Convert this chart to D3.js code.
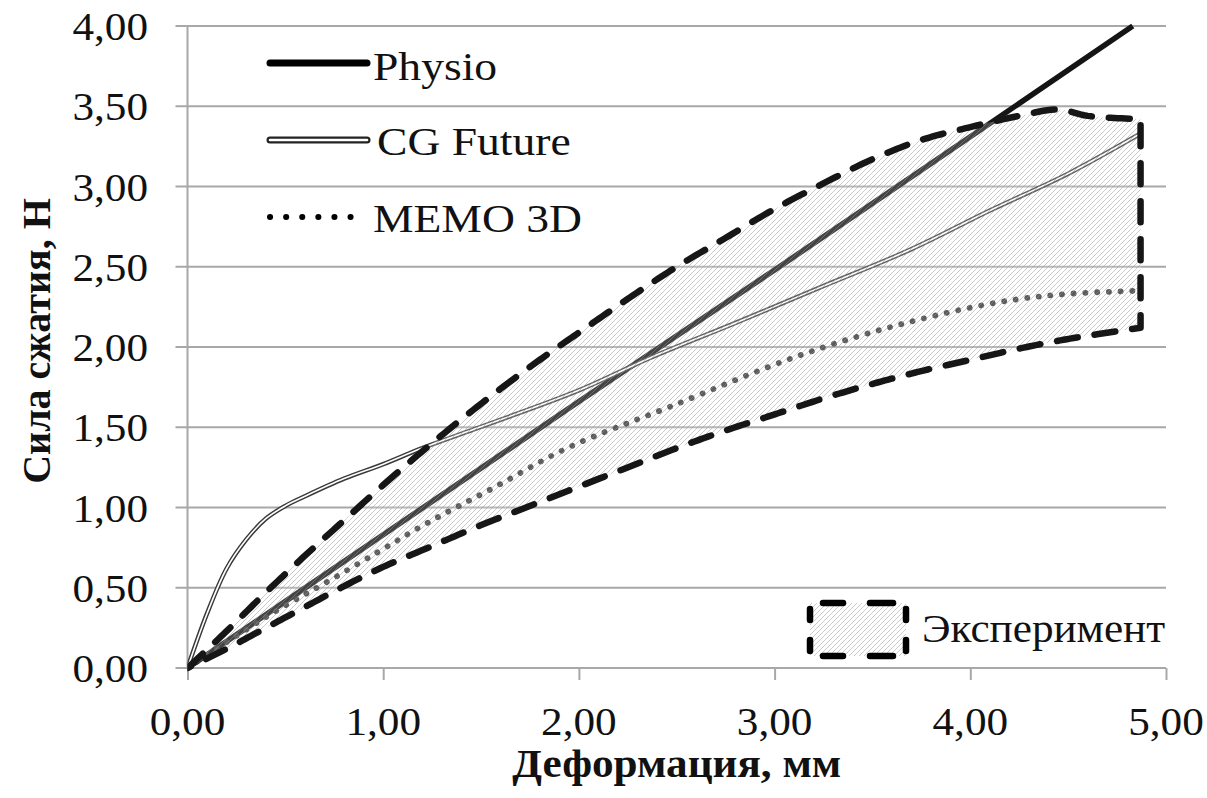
<!DOCTYPE html>
<html>
<head>
<meta charset="utf-8">
<script src="https://cdn.jsdelivr.net/npm/d3@7"></script>
<style>
  html, body { margin: 0; padding: 0; background: #fff; }
  svg { display: block; }
  text { font-family: "Liberation Serif", "Times New Roman", serif; fill: #111; }
</style>
</head>
<body>
<svg id="chart" width="1207" height="798"></svg>
<script>
// ---- data ----
const xTicks = [0, 1, 2, 3, 4, 5];
const yTicks = [0, 0.5, 1, 1.5, 2, 2.5, 3, 3.5, 4];
const xTitle = "Деформация, мм";
const yTitle = "Сила сжатия, Н";
const seriesNames = ["Physio", "CG Future", "MEMO 3D"];
const bandName = "Эксперимент";

const physioX = [0, 1, 2, 3, 4, 4.83];
const physioY = [0, 0.83, 1.66, 2.48, 3.31, 4.0];

const cgX = [0, 0.1, 0.2, 0.3, 0.4, 0.5, 0.6, 0.8, 1.0, 1.2, 1.47, 2.0, 2.36, 2.8, 3.23, 3.7, 4.1, 4.5, 4.87];
const cgY = [0, 0.34, 0.62, 0.80, 0.93, 1.01, 1.07, 1.18, 1.27, 1.37, 1.49, 1.73, 1.93, 2.15, 2.37, 2.61, 2.85, 3.08, 3.33];

const memoX = [0, 0.3, 0.5, 0.69, 0.97, 1.22, 1.56, 1.94, 2.47, 3.11, 3.64, 4.15, 4.49, 4.86];
const memoY = [0, 0.24, 0.39, 0.52, 0.72, 0.90, 1.12, 1.37, 1.63, 1.94, 2.14, 2.28, 2.33, 2.35];

const expUpperX = [0, 0.2, 0.4, 0.6, 0.8, 1.0, 1.2, 1.4, 1.6, 1.8, 2.0, 2.25, 2.5, 2.75, 3.0, 3.25, 3.5, 3.75, 4.0, 4.25, 4.45, 4.6, 4.87];
const expUpperY = [0, 0.23, 0.47, 0.70, 0.92, 1.14, 1.35, 1.55, 1.74, 1.92, 2.09, 2.30, 2.50, 2.68, 2.86, 3.02, 3.17, 3.29, 3.37, 3.44, 3.48, 3.44, 3.42];
const expLowerX = [0, 0.2, 0.4, 0.6, 0.8, 1.0, 1.25, 1.5, 1.75, 2.0, 2.25, 2.5, 2.75, 3.0, 3.25, 3.5, 3.75, 4.0, 4.25, 4.5, 4.87];
const expLowerY = [0, 0.12, 0.25, 0.38, 0.51, 0.63, 0.76, 0.89, 1.01, 1.13, 1.25, 1.37, 1.48, 1.58, 1.68, 1.77, 1.85, 1.92, 1.99, 2.05, 2.12];

// ---- layout ----
const mLeft = 187.5, mRight = 1166, mTop = 26, mBottom = 668;
const SX = 1.08;   // horizontal stretch of tick/title text
const SXL = 1.14;  // horizontal stretch of legend text

const svg = d3.select("#chart");
const x = d3.scaleLinear().domain([0, 5]).range([mLeft, mRight]);
const y = d3.scaleLinear().domain([0, 4]).range([mBottom, mTop]);
const fmt = v => d3.format(".2f")(v).replace(".", ",");
const zip = (a, b) => a.map((v, i) => [v, b[i]]);

const defs = svg.append("defs");
function hatch(id) {
  const p = defs.append("pattern").attr("id", id)
    .attr("patternUnits", "userSpaceOnUse").attr("width", 5).attr("height", 5);
  p.append("rect").attr("width", 5).attr("height", 5).attr("fill", "rgba(255,255,255,0.2)");
  p.append("path").attr("d", "M0,5 L5,0 M-1,1 L1,-1 M4,6 L6,4")
    .attr("stroke", "rgba(150,150,150,0.5)").attr("stroke-width", 1);
}
hatch("hatch");
defs.append("clipPath").attr("id", "plotclip").append("rect")
  .attr("x", mLeft).attr("y", mTop - 4).attr("width", mRight - mLeft + 10).attr("height", mBottom - mTop + 8);

// gridlines + y ticks
const grid = svg.append("g");
grid.selectAll("line.g").data(yTicks).join("line")
  .attr("x1", mLeft - 12).attr("x2", mRight)
  .attr("y1", d => y(d)).attr("y2", d => y(d))
  .attr("stroke", "#a8a8a8").attr("stroke-width", 2);
grid.append("line").attr("x1", mLeft).attr("x2", mLeft).attr("y1", mTop).attr("y2", mBottom)
  .attr("stroke", "#a8a8a8").attr("stroke-width", 2);
const xAxis = svg.append("g").attr("transform", `translate(0,${mBottom})`)
  .call(d3.axisBottom(x).tickValues(xTicks).tickSize(12).tickFormat(""));
xAxis.select(".domain").remove();
xAxis.selectAll(".tick line").attr("stroke", "#a8a8a8").attr("stroke-width", 2);

function stext(g, str, tx, ty, anchor, size, weight, sx) {
  return g.append("text")
    .attr("transform", `translate(${tx},${ty}) scale(${sx || SX},1)`)
    .attr("text-anchor", anchor).attr("font-size", size)
    .attr("font-weight", weight || "normal").text(str);
}
const labs = svg.append("g");
xTicks.forEach(t => stext(labs, fmt(t), x(t), 735, "middle", 40));
yTicks.forEach(t => stext(labs, fmt(t), 148, y(t) + 14, "end", 40));

stext(svg, xTitle, (mLeft + mRight) / 2, 777, "middle", 40, "bold");
svg.append("text")
  .attr("transform", `translate(50,${(mTop + mBottom) / 2 - 6}) rotate(-90)`)
  .attr("text-anchor", "middle").attr("font-size", 40).attr("font-weight", "bold").text(yTitle);

// series
const plot = svg.append("g").attr("clip-path", "url(#plotclip)");
const line = d3.line().x(d => x(d[0])).y(d => y(d[1])).curve(d3.curveMonotoneX);
const smooth = d3.line().x(d => x(d[0])).y(d => y(d[1])).curve(d3.curveCatmullRom.alpha(0.5));

plot.append("path").attr("d", line(zip(physioX, physioY)))
  .attr("fill", "none").attr("stroke", "#151515").attr("stroke-width", 5.5);

const cgPath = smooth(zip(cgX, cgY));
plot.append("path").attr("d", cgPath).attr("fill", "none")
  .attr("stroke", "#3a3a3a").attr("stroke-width", 4.5).attr("stroke-linecap", "round");
plot.append("path").attr("d", cgPath).attr("fill", "none")
  .attr("stroke", "#fff").attr("stroke-width", 1.6).attr("stroke-linecap", "round");

plot.append("path").attr("d", smooth(zip(memoX, memoY)))
  .attr("fill", "none").attr("stroke", "#333").attr("stroke-width", 5.8)
  .attr("stroke-linecap", "round").attr("stroke-dasharray", "0.1,11.6");

// experiment band (over the lines, hatched)
const upper = zip(expUpperX, expUpperY);
const lower = zip(expLowerX, expLowerY);
const uPath = svg.append("path").attr("d", smooth(upper)).attr("visibility", "hidden");
const lPath = svg.append("path").attr("d", smooth(lower)).attr("visibility", "hidden");
function sample(p) {
  const n = p.node(), L = n.getTotalLength(), pts = [];
  for (let i = 0; i <= 300; i++) { const q = n.getPointAtLength(L * i / 300); pts.push([q.x, q.y]); }
  return pts;
}
const uPts = sample(uPath), lPts = sample(lPath);
uPath.remove(); lPath.remove();
const poly = uPts.concat(lPts.reverse());
const polyD = "M" + poly.map(p => p[0].toFixed(2) + "," + p[1].toFixed(2)).join("L") + "Z";
plot.append("path").attr("d", polyD).attr("fill", "url(#hatch)").attr("stroke", "none");
plot.append("path").attr("d", polyD).attr("fill", "none")
  .attr("stroke", "#161616").attr("stroke-width", 6.5).attr("stroke-linecap", "round")
  .attr("stroke-linejoin", "round").attr("stroke-dasharray", "21,17");

// legend (top-left)
const lg = svg.append("g");
const lx1 = 270, lx2 = 367;
lg.append("line").attr("x1", lx1).attr("x2", lx2).attr("y1", 63).attr("y2", 63)
  .attr("stroke", "#000").attr("stroke-width", 7).attr("stroke-linecap", "round");
stext(lg, seriesNames[0], 373, 80, "start", 40, "normal", SXL);

lg.append("line").attr("x1", lx1).attr("x2", lx2).attr("y1", 140).attr("y2", 140)
  .attr("stroke", "#222").attr("stroke-width", 7).attr("stroke-linecap", "round");
lg.append("line").attr("x1", lx1).attr("x2", lx2).attr("y1", 140).attr("y2", 140)
  .attr("stroke", "#fff").attr("stroke-width", 2.6).attr("stroke-linecap", "round");
stext(lg, seriesNames[1], 377, 155, "start", 40, "normal", SXL);

lg.append("line").attr("x1", lx1).attr("x2", 352).attr("y1", 217).attr("y2", 217)
  .attr("stroke", "#000").attr("stroke-width", 6).attr("stroke-linecap", "round")
  .attr("stroke-dasharray", "0.1,16");
stext(lg, seriesNames[2], 373, 232, "start", 40, "normal", SXL);

// band legend (bottom-right): hatched box with two dashes per side
const bx1 = 810, bx2 = 906, by1 = 603, by2 = 656;
lg.append("rect").attr("x", bx1).attr("y", by1).attr("width", bx2 - bx1).attr("height", by2 - by1)
  .attr("fill", "url(#hatch)");
const segs = [
  [823, by1, 843, by1], [870, by1, 893, by1],
  [823, by2, 843, by2], [870, by2, 893, by2],
  [bx1, 609, bx1, 620], [bx1, 640, bx1, 651],
  [bx2, 609, bx2, 620], [bx2, 640, bx2, 651]
];
lg.selectAll("line.bd").data(segs).join("line")
  .attr("x1", d => d[0]).attr("y1", d => d[1]).attr("x2", d => d[2]).attr("y2", d => d[3])
  .attr("stroke", "#000").attr("stroke-width", 6.5).attr("stroke-linecap", "round");
stext(lg, bandName, 922, 642, "start", 40);
</script>
</body>
</html>
